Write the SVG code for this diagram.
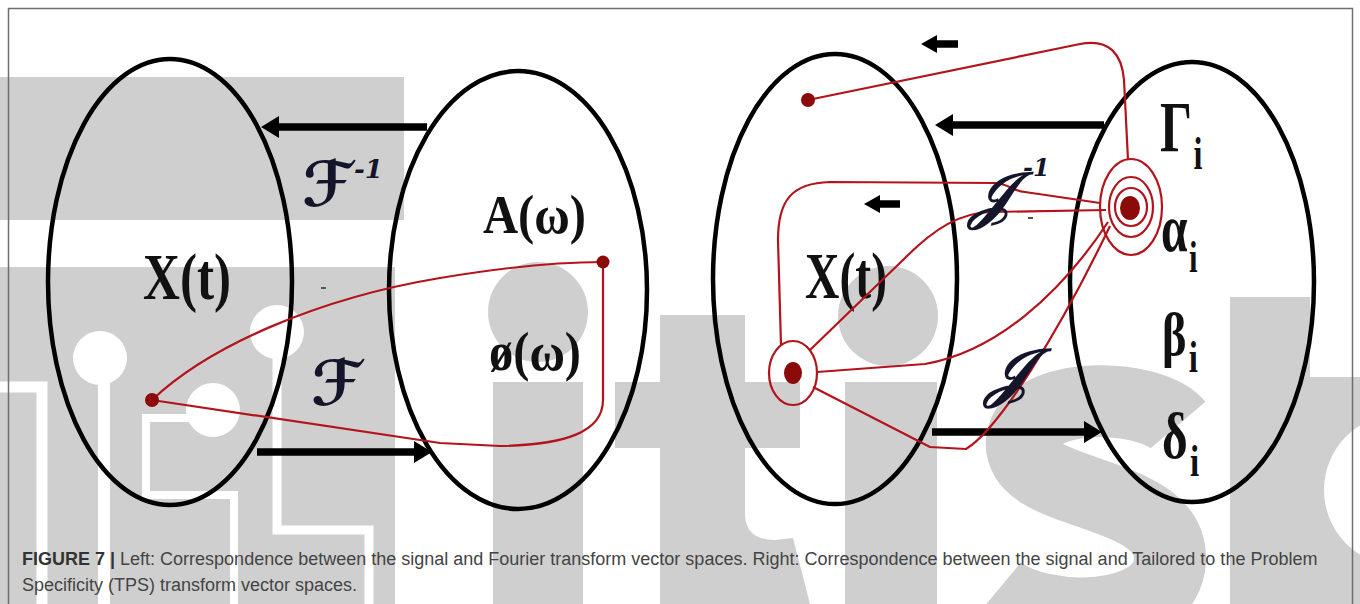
<svg xmlns="http://www.w3.org/2000/svg" width="1360" height="604" viewBox="0 0 1360 604">
<defs>
<style>
.wm{fill:#cfcfcf}
.tr{fill:none;stroke:#ffffff}
.ell{fill:none;stroke:#000;stroke-width:4.5}
.red{fill:none;stroke:#b3141c;stroke-width:2.2;stroke-linejoin:round}
.dot{fill:#8b0a0a}
.ring{fill:none;stroke:#b3141c;stroke-width:2.2}
.arr{stroke:#000;stroke-width:7.5}
.head{fill:#000}
.lab{font-family:"Liberation Serif","Times New Roman",serif;fill:#111;font-weight:bold}
.scr{font-family:"DejaVu Serif","DejaVu Sans",serif;font-weight:bold;font-style:italic;fill:#14142a}
.cap{font-family:"Liberation Sans",Arial,sans-serif;font-size:18px;fill:#444}
</style>
</defs>
<rect width="1360" height="604" fill="#fff"/>
<g id="watermark">
<rect class="wm" x="0" y="77" width="404" height="143"/>
<rect class="wm" x="0" y="267" width="395" height="337"/>
<g class="tr">
<polyline points="0,387 42,387 42,604" stroke-width="11"/>
<line x1="104" y1="358" x2="104" y2="604" stroke-width="12"/>
<polyline points="213,418 146,418 146,495 234,495 234,604" stroke-width="8"/>
<polyline points="277,332 277,530 369,530 369,604" stroke-width="9"/>
</g>
<circle cx="100" cy="358" r="27" fill="#fff"/>
<circle cx="213" cy="410" r="27" fill="#fff"/>
<circle cx="277" cy="332" r="27" fill="#fff"/>
<circle class="wm" cx="538" cy="312" r="50"/>
<rect class="wm" x="493" y="382" width="90" height="222"/>
<path class="wm" d="M660,315 L745,315 L745,382 L800,382 L800,448 L745,448 L745,515 Q746,540 775,540 L793,538 L810,604 L660,604 L660,448 L615,448 L615,382 L660,382 Z"/>
<circle class="wm" cx="888" cy="316" r="50"/>
<rect class="wm" x="845" y="382" width="92" height="222"/>
<path d="M1178,425 C1150,392 1030,390 1022,440 C1015,500 1172,485 1170,560 C1168,625 1040,625 998,590" fill="none" stroke="#cfcfcf" stroke-width="72"/>
<rect class="wm" x="1230" y="297" width="80" height="307"/>
<path class="wm" d="M1310,377 L1360,377 L1360,604 L1310,604 Z"/>
<circle cx="1400" cy="490" r="76" fill="#fff"/>
</g>
<rect x="8.5" y="8.5" width="1344" height="700" fill="none" stroke="#6e6e6e" stroke-width="1.5"/>
<g id="node-xt-left">
<ellipse class="ell" cx="170" cy="282" rx="122" ry="223"/>
<text class="lab" x="143" y="299" font-size="66" textLength="88" lengthAdjust="spacingAndGlyphs">X(t)</text>
</g>
<g id="node-fourier">
<ellipse class="ell" cx="518" cy="290" rx="129" ry="219"/>
<text class="lab" x="483" y="233" font-size="54" textLength="103" lengthAdjust="spacingAndGlyphs">A(ω)</text>
<text class="lab" x="489" y="370" font-size="54" textLength="92" lengthAdjust="spacingAndGlyphs">ø(ω)</text>
</g>
<g id="node-xt-right">
<ellipse class="ell" cx="835" cy="279" rx="122" ry="225"/>
<text class="lab" x="805" y="298" font-size="66" textLength="82" lengthAdjust="spacingAndGlyphs">X(t)</text>
</g>
<g id="node-tps">
<ellipse class="ell" cx="1192" cy="282" rx="122" ry="220"/>
<text class="lab" transform="translate(1160,151) scale(0.7,1)" font-size="72">Γ<tspan font-size="46" dx="2" dy="18">i</tspan></text>
<text class="lab" transform="translate(1161,251) scale(0.7,1)" font-size="68">α<tspan font-size="44" dx="2" dy="21">i</tspan></text>
<text class="lab" transform="translate(1162,355) scale(0.75,1)" font-size="62">β<tspan font-size="44" dx="3" dy="17">i</tspan></text>
<text class="lab" transform="translate(1162,458) scale(0.75,1)" font-size="66">δ<tspan font-size="44" dx="3" dy="18">i</tspan></text>
</g>
<g id="connectors">
<line class="arr" x1="427" y1="127" x2="276" y2="127"/>
<polygon class="head" points="261,127 279,116 279,138"/>
<line class="arr" x1="257" y1="452" x2="416" y2="452"/>
<polygon class="head" points="432,452 414,441 414,463"/>
<line class="arr" x1="1104" y1="125" x2="950" y2="125"/>
<polygon class="head" points="935,125 953,114 953,136"/>
<line class="arr" x1="932" y1="432" x2="1086" y2="432"/>
<polygon class="head" points="1102,432 1084,421 1084,443"/>
<line class="arr" x1="958" y1="44" x2="934" y2="44" stroke-width="6"/>
<polygon class="head" points="921,44 937,35 937,53"/>
<line class="arr" x1="900" y1="204" x2="877" y2="204" stroke-width="6"/>
<polygon class="head" points="864,204 880,195 880,213"/>
<path class="red" d="M152,400 C210,345 320,298 440,278 C500,268 560,262 603,262"/>
<path class="red" d="M152,400 L440,443 L500,446 C565,445 603,432 603,400 L603,262"/>
<path class="red" d="M808,100 L1080,44 C1110,38 1122,55 1124,80 L1128,160"/>
<path class="red" d="M781,345 L778,240 C778,200 792,183 830,182 L995,183 C1010,184 1012,191 1025,192 L1100,203"/>
<path class="red" d="M810,350 L905,258 C935,228 960,213 990,212 L1106,210"/>
<path class="red" d="M817,372 L925,364 C995,352 1060,295 1108,222"/>
<path class="red" d="M813,387 L930,447 L966,449 C1000,428 1060,330 1110,226"/>
<ellipse class="ring" cx="793" cy="373" rx="24" ry="32"/>
<ellipse class="ring" cx="1131" cy="207" rx="16" ry="19"/>
<ellipse class="ring" cx="1131" cy="207" rx="22" ry="30"/>
<ellipse class="ring" cx="1131" cy="207" rx="31" ry="48"/>
<circle class="dot" cx="152" cy="400" r="7"/>
<circle class="dot" cx="603" cy="262" r="6.5"/>
<circle class="dot" cx="808" cy="100" r="7"/>
<ellipse class="dot" cx="793" cy="373" rx="9" ry="11"/>
<ellipse class="dot" cx="1130" cy="208" rx="10" ry="12"/>
<line x1="321" y1="288" x2="326" y2="288" stroke="#555" stroke-width="2"/>
<line x1="1028" y1="218" x2="1033" y2="218" stroke="#555" stroke-width="2"/>
</g>
<g id="labels-transform">
<text class="scr" x="302" y="206" font-size="62">ℱ<tspan font-size="26" dx="2" dy="-28">-1</tspan></text>
<text class="scr" x="311" y="405" font-size="62">ℱ</text>
<text class="scr" x="970" y="216" font-size="62">𝒥<tspan font-size="24" dx="10" dy="-40">-1</tspan></text>
<text class="scr" x="986" y="394" font-size="64">𝒥</text>
</g>
<g id="caption">
<text class="cap" x="22" y="565"><tspan font-weight="bold" fill="#333">FIGURE 7 | </tspan>Left: Correspondence between the signal and Fourier transform vector spaces. Right: Correspondence between the signal and Tailored to the Problem</text>
<text class="cap" x="22" y="591">Specificity (TPS) transform vector spaces.</text>
</g>
</svg>
